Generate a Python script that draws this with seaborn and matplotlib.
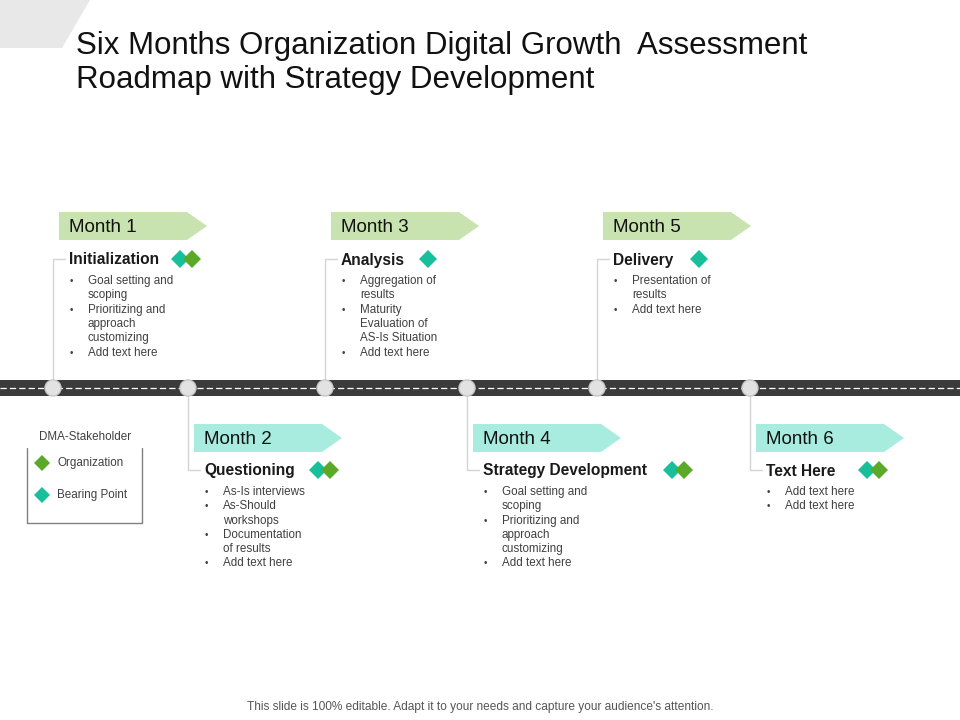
import matplotlib.pyplot as plt
import seaborn as sns
from matplotlib.patches import Polygon, Rectangle, Circle

sns.set_theme(style="white", font="Liberation Sans")

months = ["Month 1", "Month 2", "Month 3", "Month 4", "Month 5", "Month 6"]
node_x = [53, 188, 325, 467, 597, 750]
titles = ["Initialization", "Questioning", "Analysis",
          "Strategy Development", "Delivery", "Text Here"]
bullets = [
    [["Goal setting and", "scoping"], ["Prioritizing and", "approach", "customizing"], ["Add text here"]],
    [["As-Is interviews"], ["As-Should", "workshops"], ["Documentation", "of results"], ["Add text here"]],
    [["Aggregation of", "results"], ["Maturity", "Evaluation of", "AS-Is Situation"], ["Add text here"]],
    [["Goal setting and", "scoping"], ["Prioritizing and", "approach", "customizing"], ["Add text here"]],
    [["Presentation of", "results"], ["Add text here"]],
    [["Add text here"], ["Add text here"]],
]
stakeholders = [["Bearing Point", "Organization"], ["Bearing Point", "Organization"],
                ["Bearing Point"], ["Bearing Point", "Organization"],
                ["Bearing Point"], ["Bearing Point", "Organization"]]
diamond_x = [180, 318, 428, 672, 699, 867]

GREEN = "#5aaa28"
TEAL = "#17bf9a"
stake_color = {"Organization": GREEN, "Bearing Point": TEAL}

fig = plt.figure(figsize=(9.6, 7.2), dpi=100)
ax = fig.add_axes([0, 0, 1, 1])
ax.set_xlim(0, 960)
ax.set_ylim(720, 0)
ax.axis("off")

# corner decoration
ax.add_patch(Polygon([[0, 0], [90, 0], [62, 48], [0, 48]], closed=True, color="#e8e8e8", lw=0))
ax.text(76, 46, "Six Months Organization Digital Growth  Assessment", fontsize=22.5, va="center", color="#111111")
ax.text(76, 80, "Roadmap with Strategy Development", fontsize=22.5, va="center", color="#111111")

# road
ax.add_patch(Rectangle((0, 380), 960, 16, color="#3b3b3b", lw=0))
ax.plot([0, 960], [388, 388], color="white", lw=0.9, ls=(0, (5, 2.5)))


def diamond(x, y, c, s=9):
    ax.add_patch(Polygon([[x, y - s], [x + s, y], [x, y + s], [x - s, y]], closed=True, color=c, lw=0, zorder=5))


for i, m in enumerate(months):
    nx = node_x[i]
    top = i % 2 == 0
    lx = nx + 6
    label_y = 226 if top else 438
    title_y = 259 if top else 470
    fill = "#c9e3b0" if top else "#a8ece0"
    ax.add_patch(Polygon([[lx, label_y - 14], [lx + 128, label_y - 14], [lx + 148, label_y],
                          [lx + 128, label_y + 14], [lx, label_y + 14]], closed=True, color=fill, lw=0))
    ax.text(lx + 10, label_y + 1, m, fontsize=13.5, va="center", color="#111111")
    # connector
    ax.plot([nx, nx, nx + 12], [388, title_y, title_y], color="#d4d4d4", lw=1, zorder=1)
    ax.add_patch(Circle((nx, 388), 8, facecolor="#e2e2e2", edgecolor="#c8c8c8", lw=1, zorder=4))
    ax.text(nx + 16, title_y + 1, titles[i], fontsize=11.2, fontweight="bold", va="center", color="#1a1a1a")
    # diamonds
    dx = diamond_x[i]
    for k, s in enumerate(stakeholders[i]):
        diamond(dx + 12 * k, title_y, stake_color[s])
    # bullets
    y = title_y + 22
    for b in bullets[i]:
        ax.text(nx + 17, y, "•", fontsize=7, va="center", color="#404040")
        for line in b:
            ax.text(nx + 35, y, line, fontsize=8.4, va="center", color="#404040")
            y += 14.3

# legend
ax.text(85, 437, "DMA-Stakeholder", fontsize=8.4, ha="center", va="center", color="#404040")
ax.plot([27, 27, 142, 142], [448, 523, 523, 448], color="#808080", lw=1)
for yy, name in [(463, "Organization"), (495, "Bearing Point")]:
    diamond(42, yy, stake_color[name], s=8)
    ax.text(57, yy, name, fontsize=8.4, va="center", color="#404040")

ax.text(480, 707, "This slide is 100% editable. Adapt it to your needs and capture your audience's attention.",
        fontsize=8.6, ha="center", va="center", color="#555555")

fig.savefig("out.png", dpi=100)
